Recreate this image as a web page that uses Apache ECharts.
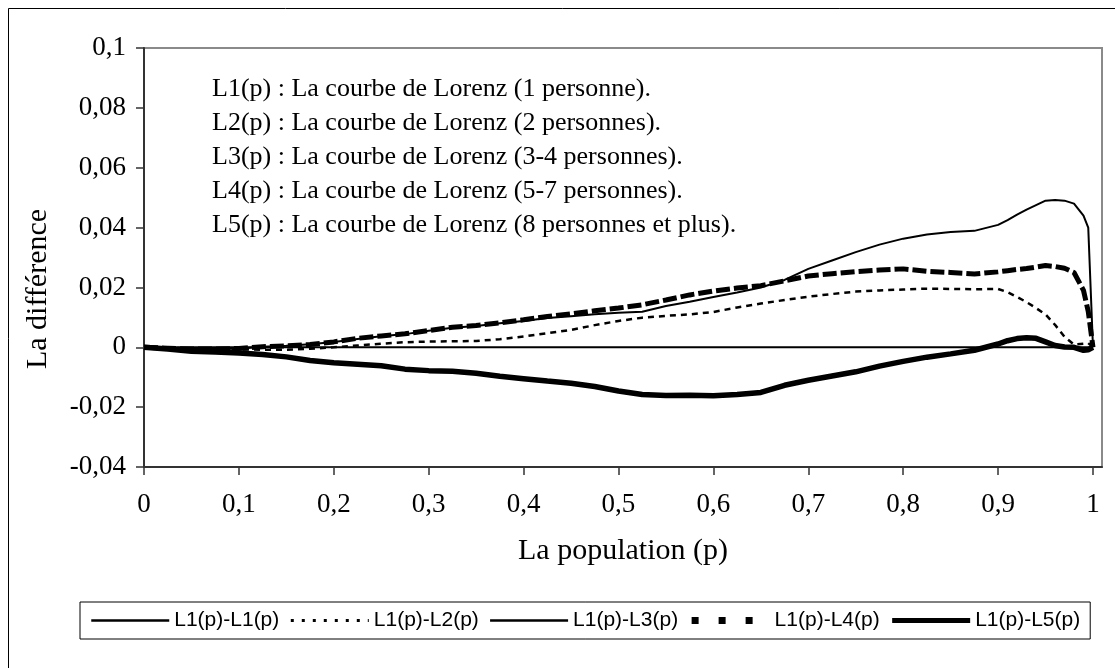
<!DOCTYPE html>
<html>
<head>
<meta charset="utf-8">
<script src="https://cdn.jsdelivr.net/npm/echarts@6/dist/echarts.min.js"></script>
<style>html,body{margin:0;padding:0;background:#fff}#c{width:1115px;height:668px}</style>
</head>
<body>
<div id="c"></div>
<script>
const p = [0,0.025,0.05,0.075,0.1,0.125,0.15,0.175,0.2,0.225,0.25,0.275,0.3,0.325,0.35,0.375,0.4,0.425,0.45,0.475,0.5,0.525,0.55,0.575,0.6,0.625,0.65,0.675,0.7,0.725,0.75,0.775,0.8,0.825,0.85,0.875,0.9,0.91,0.92,0.93,0.94,0.95,0.96,0.97,0.98,0.99,0.995,1.0];
const d11 = p.map(() => 0);
const d12 = [0,-0.0002,-0.0004,-0.0006,-0.0007,-0.0008,-0.0008,-0.0005,0,0.0006,0.0012,0.0017,0.0019,0.002,0.0021,0.0027,0.0036,0.0047,0.0058,0.0074,0.0088,0.0099,0.0105,0.011,0.0118,0.0133,0.0146,0.0158,0.0169,0.0178,0.0186,0.019,0.0193,0.0196,0.0195,0.0194,0.0195,0.0184,0.0168,0.0151,0.0131,0.0110,0.0075,0.0035,0.0009,0.0012,0.0014,0];
const d13 = [0,-0.0002,-0.0005,-0.0006,-0.0005,0.0002,0.0005,0.001,0.0018,0.0028,0.0037,0.0044,0.0055,0.0065,0.0071,0.008,0.0088,0.0098,0.0104,0.011,0.0115,0.0119,0.0138,0.0152,0.0168,0.0183,0.0200,0.0225,0.0262,0.0290,0.0318,0.0343,0.0363,0.0377,0.0385,0.0389,0.0409,0.0425,0.0443,0.0460,0.0475,0.0490,0.0492,0.0490,0.0480,0.0440,0.0400,0];
const d14 = [0,-0.0003,-0.0006,-0.0006,-0.0004,0.0002,0.0005,0.0009,0.0018,0.003,0.0038,0.0045,0.0056,0.0067,0.0073,0.0082,0.0092,0.0103,0.0112,0.0122,0.0131,0.0142,0.0158,0.0175,0.0188,0.0198,0.0206,0.0222,0.0238,0.0246,0.0253,0.0258,0.0262,0.0254,0.025,0.0245,0.0252,0.0256,0.026,0.0263,0.0268,0.0273,0.027,0.0264,0.025,0.019,0.012,0];
const d15 = [0,-0.0006,-0.0013,-0.0016,-0.0019,-0.0024,-0.0032,-0.0044,-0.0052,-0.0057,-0.0062,-0.0073,-0.0078,-0.008,-0.0087,-0.0097,-0.0105,-0.0113,-0.012,-0.0131,-0.0146,-0.0158,-0.0161,-0.016,-0.0162,-0.0158,-0.0151,-0.0127,-0.011,-0.0096,-0.0082,-0.0063,-0.0047,-0.0033,-0.0022,-0.001,0.0011,0.0022,0.0029,0.0032,0.003,0.0018,0.0006,0.0001,0,-0.001,-0.0008,0];
const seriesNames = ['L1(p)-L1(p)','L1(p)-L2(p)','L1(p)-L3(p)','L1(p)-L4(p)','L1(p)-L5(p)'];
const notes = [
  'L1(p) : La courbe de Lorenz (1 personne).',
  'L2(p) : La courbe de Lorenz (2 personnes).',
  'L3(p) : La courbe de Lorenz (3-4 personnes).',
  'L4(p) : La courbe de Lorenz (5-7 personnes).',
  'L5(p) : La courbe de Lorenz (8 personnes et plus).'
];
const xTitle = 'La population (p)';
const yTitle = 'La différence';

const serif = 'Liberation Serif, Times New Roman, serif';
const fmt = v => (Math.abs(v) < 1e-9 ? '0' : String(+v.toFixed(2)).replace('.', ','));
const pair = arr => p.map((x, i) => [x, arr[i]]);
const styles = [
  {width: 2, type: 'solid'},
  {width: 2.5, type: [6, 5]},
  {width: 2, type: 'solid'},
  {width: 5, type: [14, 4]},
  {width: 5.5, type: 'solid'}
];
const legendStyles = [
  {width: 2.5, type: 'solid'},
  {width: 3, type: [3, 8]},
  {width: 2.5, type: 'solid'},
  {width: 7, type: [7, 20]},
  {width: 5, type: 'solid'}
];
const datas = [d11, d12, d13, d14, d15];

const chart = echarts.init(document.getElementById('c'));
chart.setOption({
  animation: false,
  backgroundColor: '#fff',
  grid: {left: 144, top: 48, right: 13, bottom: 201, show: true, borderColor: '#8a8a8a', borderWidth: 2, backgroundColor: 'transparent'},
  xAxis: {
    type: 'value', min: 0, max: 1.0095, interval: 0.1,
    axisLine: {show: true, onZero: false, lineStyle: {color: '#333', width: 2}},
    axisTick: {show: true, inside: false, length: 8, lineStyle: {color: '#333', width: 1.5}},
    axisLabel: {show: true, showMaxLabel: false, margin: 24, color: '#000', fontFamily: serif, fontSize: 27, formatter: fmt},
    splitLine: {show: false},
    name: xTitle, nameLocation: 'middle', nameGap: 69,
    nameTextStyle: {color: '#000', fontFamily: serif, fontSize: 30}
  },
  yAxis: {
    type: 'value', min: -0.04, max: 0.1, interval: 0.02,
    axisLine: {show: true, onZero: false, lineStyle: {color: '#333', width: 2}},
    axisTick: {show: true, inside: false, length: 8, lineStyle: {color: '#333', width: 1.5}},
    axisLabel: {margin: 18, color: '#000', fontFamily: serif, fontSize: 27, formatter: fmt},
    splitLine: {show: false}
  },
  legend: {
    data: seriesNames.map((n, i) => ({
      name: n,
      lineStyle: {color: '#000', width: legendStyles[i].width, type: legendStyles[i].type}
    })),
    left: 80, top: 602,
    orient: 'horizontal',
    padding: [8, 10],
    itemWidth: 78, itemHeight: 14, itemGap: 10,
    itemStyle: {opacity: 0},
    borderColor: '#000', borderWidth: 1,
    textStyle: {color: '#000', fontFamily: 'Liberation Sans, Arial, sans-serif', fontSize: 21}
  },
  graphic: [
    {type: 'rect', left: 6, top: 6, shape: {width: 1200, height: 800}, style: {fill: 'none', stroke: '#000', lineWidth: 1}, silent: true, z: -10},
    {type: 'text', x: 38, y: 289, rotation: Math.PI / 2,
      style: {text: yTitle, fontFamily: serif, fontSize: 30, fill: '#000', align: 'center', verticalAlign: 'middle'}},
    ...notes.map((t, i) => ({
      type: 'text', left: 212, top: 76 + i * 34,
      style: {text: t, fontFamily: serif, fontSize: 26, fill: '#000'}
    }))
  ],
  series: seriesNames.map((n, i) => ({
    name: n, type: 'line', data: pair(datas[i]), symbol: 'none', smooth: false,
    lineStyle: {color: '#000', width: styles[i].width, type: styles[i].type},
    itemStyle: {color: '#000'},
    z: 2 + i
  }))
});
</script>
</body>
</html>
